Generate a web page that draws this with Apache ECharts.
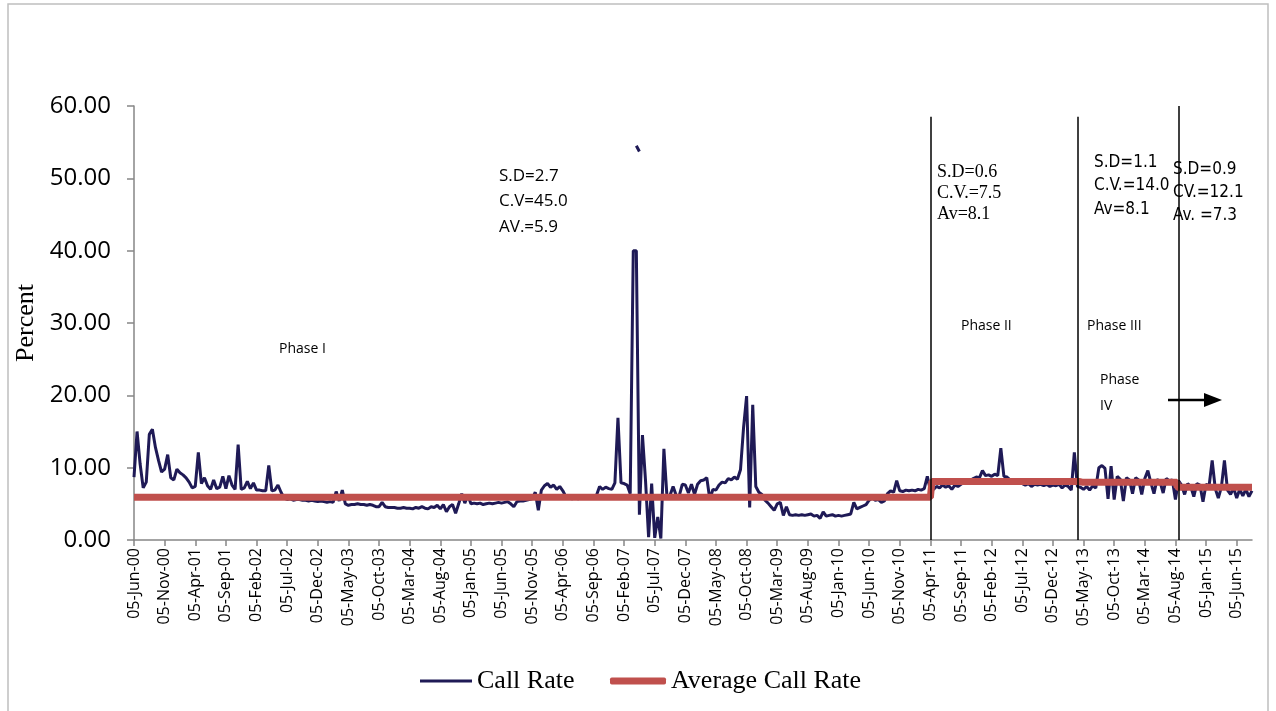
<!DOCTYPE html>
<html><head><meta charset="utf-8">
<script src="https://cdn.jsdelivr.net/npm/echarts@6/dist/echarts.min.js"></script>
<style>html,body{margin:0;padding:0;background:#fff}#c{width:1276px;height:711px}</style>
</head><body><div id="c"></div>
<script>
// ---- data (half-monthly readings, 05-Jun-00 .. 20-Aug-15) ----
const monthNames = ['Jan','Feb','Mar','Apr','May','Jun','Jul','Aug','Sep','Oct','Nov','Dec'];
const firstYear = 2000, firstMonth = 5, monthCount = 183;
const tickLabels = ['05-Jun-00','05-Nov-00','05-Apr-01','05-Sep-01','05-Feb-02','05-Jul-02','05-Dec-02','05-May-03','05-Oct-03','05-Mar-04','05-Aug-04','05-Jan-05','05-Jun-05','05-Nov-05','05-Apr-06','05-Sep-06','05-Feb-07','05-Jul-07','05-Dec-07','05-May-08','05-Oct-08','05-Mar-09','05-Aug-09','05-Jan-10','05-Jun-10','05-Nov-10','05-Apr-11','05-Sep-11','05-Feb-12','05-Jul-12','05-Dec-12','05-May-13','05-Oct-13','05-Mar-14','05-Aug-14','05-Jan-15','05-Jun-15'];
const callRate = [
8.7,15.0,10.5,7.2,8.0,14.6,15.3,12.8,11.0,9.4,
9.8,11.8,8.6,8.3,9.8,9.3,9.0,8.6,8.0,7.2,
7.4,12.1,7.8,8.6,7.5,7.0,8.3,7.1,7.3,8.8,
7.1,8.9,7.6,7.0,13.2,7.0,7.2,8.1,7.1,7.9,
6.9,6.9,6.8,6.8,10.3,6.8,6.9,7.6,6.6,5.8,
5.6,5.7,5.5,5.6,5.6,5.5,5.5,5.4,5.5,5.4,
5.3,5.4,5.3,5.2,5.3,5.2,6.7,5.4,6.9,5.0,
4.8,4.9,4.9,5.0,4.9,4.9,4.8,4.9,4.8,4.6,
4.6,5.2,4.6,4.5,4.5,4.5,4.4,4.4,4.5,4.4,
4.4,4.3,4.5,4.4,4.6,4.4,4.3,4.6,4.5,4.8,
4.3,4.9,3.9,4.6,4.9,3.7,5.0,6.4,5.1,6.2,
5.0,5.1,5.0,5.1,4.9,5.0,5.1,5.0,5.1,5.2,
5.1,5.2,5.3,5.0,4.6,5.3,5.4,5.4,5.5,5.6,
5.7,6.6,4.1,6.9,7.5,7.8,7.3,7.6,7.0,7.4,
6.8,6.0,5.8,5.7,5.8,5.7,5.8,5.8,5.9,6.0,
6.0,6.2,7.4,7.0,7.3,7.1,7.0,7.9,16.9,7.9,
7.8,7.6,6.4,40.0,40.0,3.5,14.5,8.2,0.4,7.8,
0.3,3.2,0.2,12.6,6.0,6.2,7.4,6.2,6.1,7.7,
7.6,6.5,7.7,6.3,7.7,8.2,8.3,8.6,5.6,7.0,
6.9,7.6,8.0,7.9,8.5,8.3,8.7,8.4,9.7,15.5,
19.9,4.5,18.7,7.4,6.6,6.3,5.5,5.1,4.6,4.1,
5.0,5.2,3.4,4.6,3.5,3.4,3.5,3.4,3.5,3.4,
3.5,3.6,3.3,3.4,3.0,3.9,3.3,3.4,3.5,3.3,
3.4,3.3,3.4,3.5,3.6,5.2,4.3,4.5,4.7,4.9,
5.5,5.8,5.5,5.6,5.2,5.4,6.4,6.8,6.6,8.2,
6.8,6.7,6.9,6.8,6.9,6.8,7.0,6.9,7.1,8.8,
6.9,7.0,7.4,7.2,7.6,7.3,7.5,7.0,7.6,7.4,
7.7,8.0,8.3,8.2,8.5,8.7,8.6,9.6,8.9,9.0,
8.8,9.1,8.9,12.7,8.8,8.7,8.3,8.2,8.2,8.1,
7.8,7.6,7.8,7.4,7.7,7.6,7.7,7.5,7.7,7.4,
7.6,7.5,7.7,7.2,7.6,7.4,6.9,12.1,7.4,7.3,
7.0,7.4,6.9,7.5,7.2,10.0,10.3,9.9,5.7,10.2,
5.6,8.8,8.4,5.4,8.6,8.3,6.4,8.6,8.3,6.3,
8.5,9.6,7.9,6.4,8.4,8.0,6.5,8.5,8.2,8.3,
5.6,8.2,7.6,6.3,7.8,7.4,6.0,7.8,7.6,5.3,
7.7,7.5,11.0,7.1,5.8,7.3,11.0,6.9,6.3,7.2,
5.8,7.0,6.1,7.0,6.0,6.8
];
// isolated short reading above the 40 spike (Mar-07)
const isolatedMark = [[164, 54.5], [165, 53.7]];
// phase averages: first half-month index of each phase, and its average
const phaseStart = [0, 261, 309, 341];
const phaseAvg = [5.9, 8.1, 8.0, 7.3];
// phase divider positions (half-month index) and their tops (percent)
const dividerIdx = [260, 308, 341];
const dividerTop = [58.5, 58.5, 60];

// ---- build ----
const categories = [];
for (let m = 0; m < monthCount; m++) {
  const mi = (firstMonth + m) % 12;
  const y = firstYear + Math.floor((firstMonth + m) / 12);
  const yy = String(y % 100).padStart(2, '0');
  categories.push('05-' + monthNames[mi] + '-' + yy);
  categories.push('20-' + monthNames[mi] + '-' + yy);
}
const avgSeries = callRate.map((_, i) => {
  let p = 0;
  for (let k = 0; k < phaseStart.length; k++) if (i >= phaseStart[k]) p = k;
  return phaseAvg[p];
});
const divLines = dividerIdx.map((d, k) => [
  { coord: [categories[d], 0] },
  { coord: [categories[d], dividerTop[k]] }
]);

const sans = "'Open Sans', 'Liberation Sans', sans-serif";
const serif = "'Liberation Serif', 'DejaVu Serif', serif";
const narrow = "'Liberation Sans Narrow', 'DejaVu Sans Condensed', 'Liberation Sans', sans-serif";
const navy = '#1f1a56', red = '#c0504d';

function txt(s, x, y, font, size) {
  return { type: 'text', x: x, y: y, silent: true,
    style: { text: s, fill: '#000', font: size + 'px ' + font, textVerticalAlign: 'middle' } };
}
const legendText = { fontFamily: serif, fontSize: 26, color: '#000' };

const chart = echarts.init(document.getElementById('c'));
chart.setOption({
  animation: false,
  backgroundColor: '#fff',
  grid: { left: 134, right: 24, top: 106, bottom: 171, containLabel: false },
  legend: [
    { data: [{ name: 'Call Rate', icon: 'rect' }], left: 420, top: 668, padding: 0, itemWidth: 52, itemHeight: 3,
      textStyle: legendText, selectedMode: false },
    { data: [{ name: 'Average Call Rate', icon: 'roundRect' }], left: 610, top: 668, padding: 0, itemWidth: 56, itemHeight: 7,
      textStyle: legendText, selectedMode: false }
  ],
  xAxis: {
    type: 'category', data: categories, boundaryGap: false,
    axisLine: { lineStyle: { color: '#868686', width: 1.5 } },
    axisTick: { show: true, interval: 9, length: 6, lineStyle: { color: '#868686', width: 1.5 } },
    axisLabel: { interval: 9, rotate: 90, margin: 8, color: '#000', fontFamily: sans, fontSize: 16,
      formatter: (v, i) => tickLabels[Math.round(i / 10)] || v }
  },
  yAxis: {
    type: 'value', min: 0, max: 60, interval: 10,
    name: 'Percent', nameLocation: 'middle', nameGap: 84,
    nameTextStyle: { fontFamily: serif, fontSize: 26, color: '#000' },
    splitLine: { show: false },
    axisLine: { show: true, lineStyle: { color: '#868686', width: 1.5 } },
    axisTick: { show: true, length: 7, lineStyle: { color: '#868686', width: 1.5 } },
    axisLabel: { margin: 23, color: '#000', fontFamily: sans, fontSize: 24, formatter: v => v.toFixed(2) }
  },
  series: [
    { name: 'Call Rate', type: 'line', data: callRate, symbol: 'none', connectNulls: false,
      lineStyle: { color: navy, width: 3 }, itemStyle: { color: navy }, z: 2,
      markLine: { silent: true, symbol: 'none', label: { show: false },
        lineStyle: { color: '#000', width: 1.5, type: 'solid' }, data: divLines } },
    { name: 'Call Rate', type: 'line', data: isolatedMark, symbol: 'none',
      lineStyle: { color: navy, width: 3 }, itemStyle: { color: navy }, z: 2 },
    { name: 'Average Call Rate', type: 'line', data: avgSeries, symbol: 'none', step: 'middle',
      lineStyle: { color: red, width: 7 }, itemStyle: { color: red }, z: 3 }
  ],
  graphic: [
    { type: 'rect', shape: { x: 8, y: 4, width: 1260, height: 720 }, silent: true, z: -10,
      style: { fill: 'none', stroke: '#bfbfbf', lineWidth: 1.5 } },
    txt('S.D=2.7', 499, 176, sans, 17),
    txt('C.V=45.0', 499, 201, sans, 17),
    txt('AV.=5.9', 499, 227, sans, 17),
    txt('Phase I', 279, 349, sans, 14),
    txt('S.D=0.6', 937, 172, serif, 18),
    txt('C.V.=7.5', 937, 193, serif, 18),
    txt('Av=8.1', 937, 214, serif, 18),
    txt('S.D=1.1', 1094, 163, narrow, 17),
    txt('C.V.=14.0', 1094, 186, narrow, 17),
    txt('Av=8.1', 1094, 210, narrow, 17),
    txt('S.D=0.9', 1173, 170, narrow, 17),
    txt('CV.=12.1', 1173, 193, narrow, 17),
    txt('Av. =7.3', 1173, 216, narrow, 17),
    txt('Phase II', 961, 326, sans, 14),
    txt('Phase III', 1087, 326, sans, 14),
    txt('Phase', 1100, 380, sans, 14),
    txt('IV', 1100, 406, sans, 14),
    { type: 'line', silent: true, shape: { x1: 1168, y1: 400, x2: 1208, y2: 400 },
      style: { stroke: '#000', lineWidth: 2.5 } },
    { type: 'polygon', silent: true, shape: { points: [[1204, 393], [1222, 400], [1204, 407]] },
      style: { fill: '#000' } }
  ]
});
</script>
</body></html>
